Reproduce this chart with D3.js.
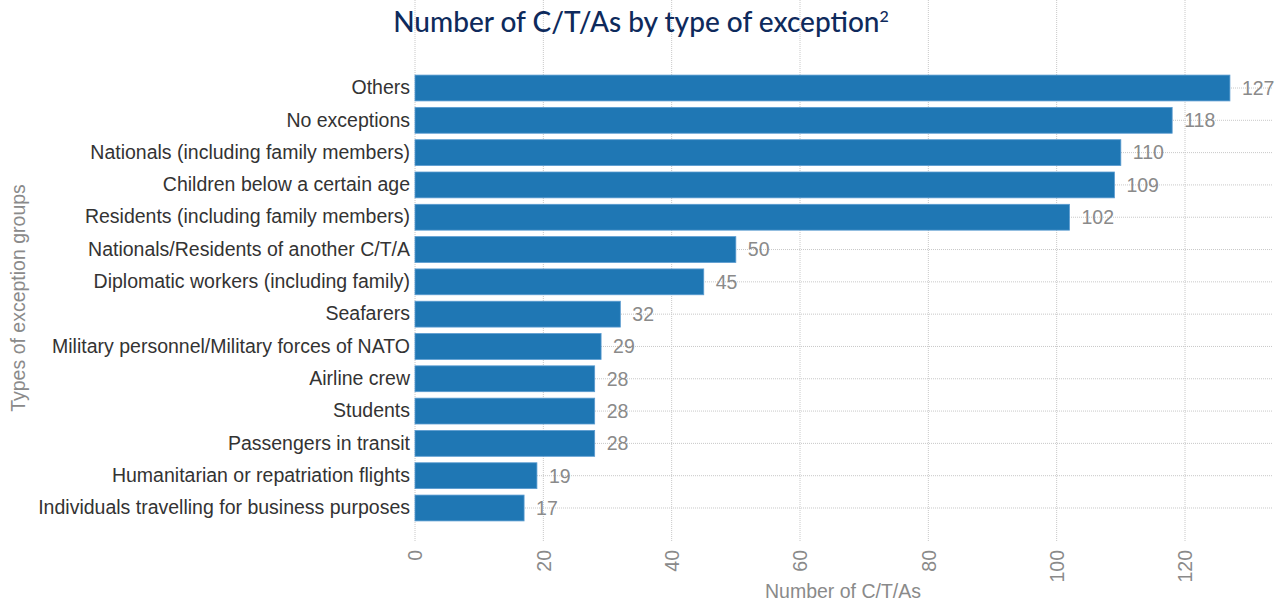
<!DOCTYPE html>
<html>
<head>
<meta charset="utf-8">
<script src="https://cdn.jsdelivr.net/npm/d3@7"></script>
<style>
  body { margin: 0; background: #fff; }
  text { font-family: "Liberation Sans", Arial, sans-serif; }
</style>
</head>
<body>
<svg id="chart" width="1277" height="601"></svg>
<script>
var categories = [
    "Others",
    "No exceptions",
    "Nationals (including family members)",
    "Children below a certain age",
    "Residents (including family members)",
    "Nationals/Residents of another C/T/A",
    "Diplomatic workers (including family)",
    "Seafarers",
    "Military personnel/Military forces of NATO",
    "Airline crew",
    "Students",
    "Passengers in transit",
    "Humanitarian or repatriation flights",
    "Individuals travelling for business purposes"
];
var counts = [127, 118, 110, 109, 102, 50, 45, 32, 29, 28, 28, 28, 19, 17];
var xTicks = [0, 20, 40, 60, 80, 100, 120];

var svg = d3.select("#chart"),
    left = 415,
    right = 1272,
    top = 54,
    bottom = 542,
    fs = 19.5;

var x = d3.scaleLinear()
    .domain([0, 120])
    .range([left, left + 770]);

var y = d3.scaleBand()
    .domain(categories)
    .range([71.85, 524.15])
    .paddingInner(0.2)
    .paddingOuter(0.1);

var data = categories.map(function (c, i) {
    return {name: c, value: counts[i]};
});

// vertical grid
svg.append("g")
    .selectAll("line")
    .data(xTicks)
    .enter().append("line")
    .attr("x1", function (d) { return x(d); })
    .attr("x2", function (d) { return x(d); })
    .attr("y1", top)
    .attr("y2", bottom)
    .attr("stroke", "#c8c8c8")
    .attr("stroke-width", 1)
    .attr("stroke-dasharray", "1,1");

// horizontal grid at bar centers
svg.append("g")
    .selectAll("line")
    .data(categories)
    .enter().append("line")
    .attr("x1", left)
    .attr("x2", right)
    .attr("y1", function (d) { return y(d) + y.bandwidth() / 2; })
    .attr("y2", function (d) { return y(d) + y.bandwidth() / 2; })
    .attr("stroke", "#c8c8c8")
    .attr("stroke-width", 1)
    .attr("stroke-dasharray", "1,1");

// bars
svg.append("g")
    .selectAll("rect")
    .data(data)
    .enter().append("rect")
    .attr("x", x(0))
    .attr("y", function (d) { return y(d.name); })
    .attr("width", function (d) { return x(d.value) - x(0); })
    .attr("height", y.bandwidth())
    .attr("fill", "#1f77b4")
    .attr("stroke", "#5a9bd0")
    .attr("stroke-width", 0.8);

// value labels
svg.append("g")
    .selectAll("text")
    .data(data)
    .enter().append("text")
    .attr("x", function (d) { return x(d.value) + 12; })
    .attr("y", function (d) { return y(d.name) + y.bandwidth() / 2; })
    .attr("dy", "0.35em")
    .attr("font-size", fs)
    .attr("fill", "#8a8a8a")
    .text(function (d) { return d.value; });

// y axis labels
var yAxis = svg.append("g")
    .attr("transform", "translate(" + left + ",0)")
    .call(d3.axisLeft(y).tickSize(0).tickPadding(5));
yAxis.select(".domain").remove();
yAxis.selectAll("text")
    .attr("font-size", fs)
    .attr("font-family", "Liberation Sans, Arial, sans-serif")
    .attr("fill", "#333");

// x axis tick labels (rotated)
var xAxis = svg.append("g")
    .attr("transform", "translate(0," + bottom + ")")
    .call(d3.axisBottom(x).tickValues(xTicks).tickSize(0));
xAxis.select(".domain").remove();
xAxis.selectAll("text")
    .attr("font-size", fs)
    .attr("font-family", "Liberation Sans, Arial, sans-serif")
    .attr("fill", "#8a8a8a")
    .attr("transform", "rotate(-90)")
    .attr("text-anchor", "end")
    .attr("x", -8)
    .attr("y", 0)
    .attr("dy", "0.35em");

// axis titles
svg.append("text")
    .attr("x", 843)
    .attr("y", 598)
    .attr("text-anchor", "middle")
    .attr("font-size", fs)
    .attr("fill", "#8a8a8a")
    .text("Number of C/T/As");

svg.append("text")
    .attr("transform", "translate(25,298) rotate(-90)")
    .attr("text-anchor", "middle")
    .attr("font-size", fs)
    .attr("fill", "#8a8a8a")
    .text("Types of exception groups");

// title
var title = svg.append("text")
    .attr("x", 641)
    .attr("y", 32)
    .attr("text-anchor", "middle")
    .attr("font-size", 28)
    .attr("fill", "#0e2a5c")
    .style("font-family", "Lato, sans-serif")
    .style("font-weight", "500")
    .text("Number of C/T/As by type of exception");
title.append("tspan")
    .attr("dy", -10)
    .attr("font-size", 16)
    .text("2");
</script>
</body>
</html>
